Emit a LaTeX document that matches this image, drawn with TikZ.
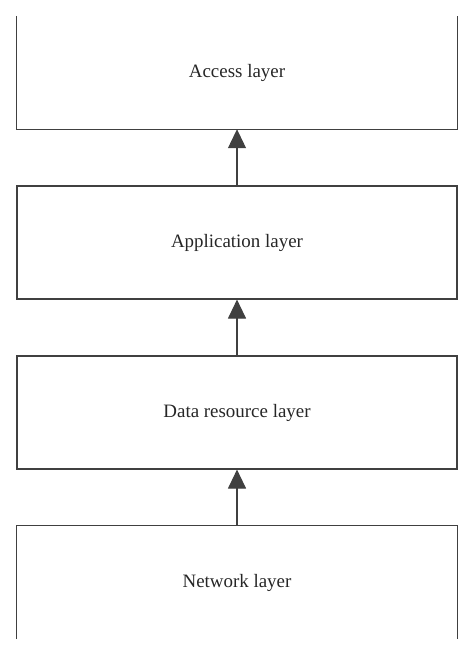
\documentclass[tikz,border=0pt]{standalone}
\usepackage{fontspec}
\setmainfont{Liberation Serif}
\usetikzlibrary{arrows.meta}
\begin{document}
\begin{tikzpicture}[x=1bp,y=-1bp,
  layerbox/.style={rectangle,minimum width=440bp,minimum height=113bp,inner sep=0pt,font=\fontsize{19}{23}\selectfont,text=black!85},
  framed/.style={draw=black!75,line width=1.1bp},
  edge/.style={draw=black!75,line width=1.1bp},
  uparrow/.style={draw=black!75,line width=1.1bp,-{Triangle[width=18bp,length=19bp]}}]
\useasboundingbox (0,0) rectangle (474,656);
\node[layerbox] (acc) at (237,72.5) {Access layer};
\node[layerbox,framed] (app) at (237,242.5) {Application layer};
\node[layerbox,framed] (dat) at (237,412.5) {Data resource layer};
\node[layerbox] (net) at (237,582.5) {Network layer};
\draw[edge] (acc.north west) -- (acc.south west) -- (acc.south east) -- (acc.north east);
\draw[edge] (net.south west) -- (net.north west) -- (net.north east) -- (net.south east);
\draw[uparrow] (app.north) -- (acc.south);
\draw[uparrow] (dat.north) -- (app.south);
\draw[uparrow] (net.north) -- (dat.south);
\end{tikzpicture}
\end{document}
